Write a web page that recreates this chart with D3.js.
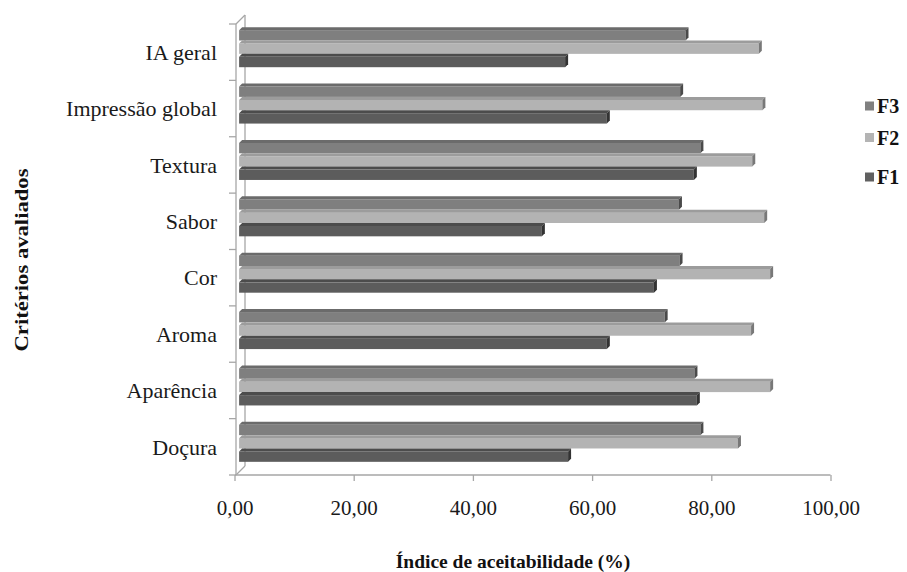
<!DOCTYPE html>
<html>
<head>
<meta charset="utf-8">
<script src="https://cdn.jsdelivr.net/npm/d3@7"></script>
<style>
  html, body { margin: 0; padding: 0; background: #fff; }
  svg { display: block; }
</style>
</head>
<body>
<svg id="chart" width="907" height="572"></svg>
<script>
// ---- data ----
const categories = ["IA geral", "Impressão global", "Textura", "Sabor", "Cor", "Aroma", "Aparência", "Doçura"];
const seriesNames = ["F3", "F2", "F1"];
const f3Values = [74.9, 74.0, 77.4, 73.8, 73.9, 71.4, 76.4, 77.4];
const f2Values = [87.2, 87.8, 86.1, 88.1, 89.1, 85.9, 89.1, 83.7];
const f1Values = [54.7, 61.7, 76.3, 50.8, 69.6, 61.7, 76.8, 55.2];
const xTickValues = [0, 20, 40, 60, 80, 100];
const xTitle = "Índice de aceitabilidade (%)";
const yTitle = "Critérios avaliados";

const seriesValues = { F3: f3Values, F2: f2Values, F1: f1Values };
const colors = {
  F3: { front: "#7f7f7f", top: "#6b6b6b", side: "#4a4a4a", legend: "#808080" },
  F2: { front: "#b3b3b3", top: "#9c9c9c", side: "#787878", legend: "#b4b4b4" },
  F1: { front: "#5c5c5c", top: "#4c4c4c", side: "#333333", legend: "#606060" }
};

const svg = d3.select("#chart");
const serif = "'Liberation Serif', 'Times New Roman', serif";
const axisColor = "#a6a6a6";

// ---- scales ----
const xFront = d3.scaleLinear().domain([0, 100]).range([234.5, 830.5]);
const depthX = 4.6, depthY = -5;
const xBar = d3.scaleLinear().domain([0, 100]).range([234.5 + depthX, 830.5 + depthX]);

const plotTop = 24, plotBottom = 475;
const yFront = d3.scaleBand().domain(categories).range([plotTop, plotBottom]).paddingInner(0.29).paddingOuter(0.145);
const yBar = d3.scaleBand().domain(categories).range([plotTop + depthY, plotBottom + depthY]).paddingInner(0.29).paddingOuter(0.145);
const ySeries = d3.scaleBand().domain(seriesNames).range([0, yBar.bandwidth()]);

// ---- walls / axis lines ----
const wallFrontX = 236, wallBackX = 245, wallDepth = 9;
const wall = svg.append("g").attr("stroke", axisColor).attr("stroke-width", 1.3).attr("fill", "none");
wall.append("line").attr("x1", wallBackX).attr("y1", plotTop - wallDepth).attr("x2", wallBackX).attr("y2", plotBottom - wallDepth);
wall.append("line").attr("x1", wallFrontX).attr("y1", plotTop).attr("x2", wallBackX).attr("y2", plotTop - wallDepth);
wall.append("line").attr("x1", wallFrontX).attr("y1", plotBottom).attr("x2", wallBackX).attr("y2", plotBottom - wallDepth);
wall.append("line").attr("x1", wallFrontX).attr("y1", plotTop).attr("x2", wallFrontX).attr("y2", plotBottom);

// left category ticks at band boundaries
const step = yFront.step();
const boundaries = d3.range(categories.length + 1).map(i => plotTop + i * step);
wall.selectAll("line.ytick").data(boundaries).join("line")
  .attr("class", "ytick")
  .attr("x1", 229).attr("x2", wallFrontX)
  .attr("y1", v => v).attr("y2", v => v);

// ---- bars ----
const dd = 3;
const barData = [];
categories.forEach((c, i) => {
  seriesNames.forEach(s => barData.push({ cat: c, series: s, value: seriesValues[s][i] }));
});

const bars = svg.append("g").selectAll("g.bar").data(barData).join("g").attr("class", "bar");
bars.each(function (b) {
  const g = d3.select(this);
  const x0 = xBar(0), x1 = xBar(b.value);
  const y = yBar(b.cat) + ySeries(b.series);
  const h = ySeries.bandwidth();
  const c = colors[b.series];
  g.append("rect").attr("x", x0).attr("y", y + dd).attr("width", x1 - x0).attr("height", h - dd).attr("fill", c.front);
  g.append("polygon")
    .attr("points", [[x0, y + dd], [x1, y + dd], [x1 + dd, y], [x0 + dd, y]].map(p => p.join(",")).join(" "))
    .attr("fill", c.top);
  g.append("polygon")
    .attr("points", [[x1, y + dd], [x1 + dd, y], [x1 + dd, y + h - dd], [x1, y + h]].map(p => p.join(",")).join(" "))
    .attr("fill", c.side);
});

// ---- x axis ----
const fmt = v => d3.format(".2f")(v).replace(".", ",");
const xAxis = svg.append("g").attr("transform", `translate(0,${plotBottom})`)
  .call(d3.axisBottom(xFront).tickValues(xTickValues).tickSize(6).tickSizeOuter(0).tickPadding(19).tickFormat(fmt));
xAxis.select(".domain").attr("stroke", axisColor).attr("stroke-width", 1.3).attr("d", `M${wallFrontX - 1},0H${xFront(100)}`);
xAxis.selectAll(".tick line").attr("stroke", axisColor).attr("stroke-width", 1.3);
xAxis.selectAll(".tick text").attr("fill", "#1a1a1a").style("font-family", serif).style("font-size", "21px");

// ---- category labels ----
svg.append("g").selectAll("text").data(categories).join("text")
  .attr("x", 217)
  .attr("y", c => yFront(c) + yFront.bandwidth() / 2)
  .attr("dy", "0.35em")
  .attr("text-anchor", "end")
  .attr("fill", "#1a1a1a")
  .style("font-family", serif).style("font-size", "22px")
  .text(c => c);

// ---- titles ----
svg.append("text")
  .attr("x", 513).attr("y", 568)
  .attr("text-anchor", "middle")
  .attr("fill", "#111")
  .style("font-family", serif).style("font-size", "19.5px").style("font-weight", "bold")
  .text(xTitle);

svg.append("text")
  .attr("transform", "translate(28,260) rotate(-90)")
  .attr("text-anchor", "middle")
  .attr("fill", "#111")
  .attr("textLength", 183).attr("lengthAdjust", "spacingAndGlyphs")
  .style("font-family", serif).style("font-size", "18.5px").style("font-weight", "bold")
  .text(yTitle);

// ---- legend ----
const legendY = { F3: 106, F2: 137.5, F1: 177 };
const legend = svg.append("g").selectAll("g").data(seriesNames).join("g")
  .attr("transform", s => `translate(865,${legendY[s]})`);
legend.append("rect").attr("x", 0).attr("y", -4.5).attr("width", 9).attr("height", 9).attr("fill", s => colors[s].legend);
legend.append("text").attr("x", 12).attr("y", 0).attr("dy", "0.35em")
  .attr("fill", "#111")
  .style("font-family", serif).style("font-size", "20px").style("font-weight", "bold")
  .text(s => s);
</script>
</body>
</html>
